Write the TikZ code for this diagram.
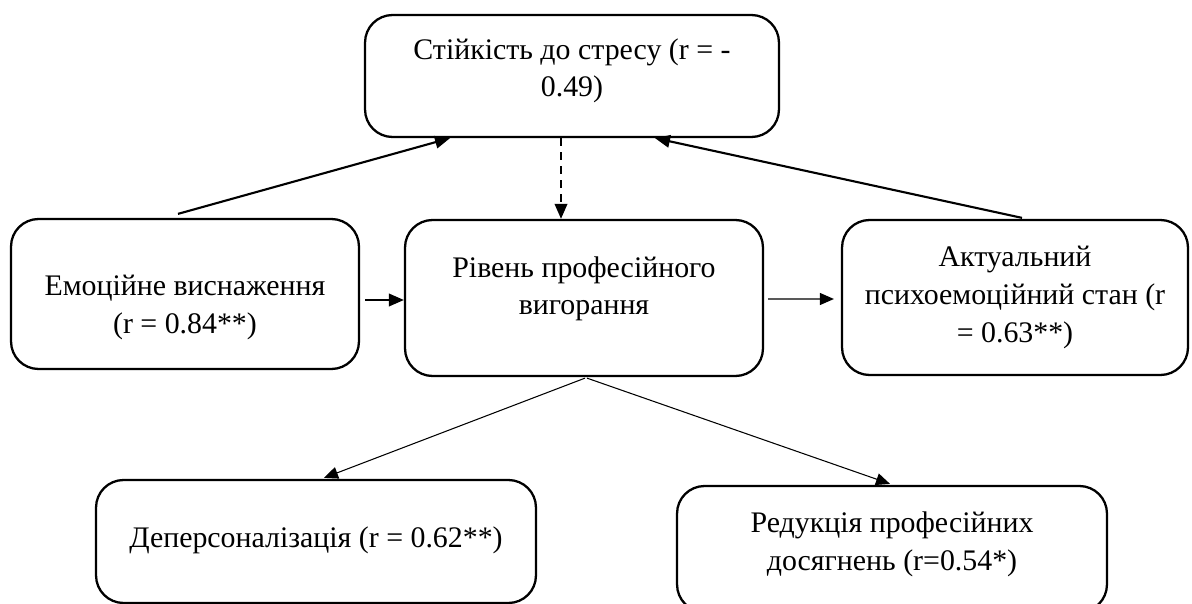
\documentclass[tikz,border=0pt]{standalone}
\usepackage{fontspec}
\setmainfont{Liberation Serif}
\usetikzlibrary{arrows.meta,calc}
\begin{document}
\begin{tikzpicture}[x=0.02cm,y=-0.02cm,
  box/.style={draw, line width=1.3pt, rounded corners=0.55cm, inner sep=0pt},
  lbl/.style={inner sep=0pt, align=center, anchor=base, font=\fontsize{17}{21.6}\selectfont},
  thickarrow/.style={line width=1.2pt, -{Triangle[length=0.3cm,width=0.25cm]}},
  thinarrow/.style={line width=0.6pt, -{Triangle[length=0.28cm,width=0.24cm]}},
]
\useasboundingbox (0,0) rectangle (1192,604);
% boxes
\node[box, minimum width=8.28cm, minimum height=2.44cm] (top) at (572,76) {};
\node[box, minimum width=6.96cm, minimum height=3.0cm] (emo) at (185,294) {};
\node[box, minimum width=7.16cm, minimum height=3.12cm] (ctr) at (584,298) {};
\node[box, minimum width=6.92cm, minimum height=3.1cm] (rt) at (1015,297.5) {};
\node[box, minimum width=8.8cm, minimum height=2.46cm] (bl) at (316,541.5) {};
\node[box, minimum width=8.6cm, minimum height=2.52cm] (br) at (892,549) {};
% texts (anchor base = baseline of the last line)
\node[lbl] (ttop) at (572,97) {Стійкість до стресу (r = -\\0.49)};
\node[lbl] (temo) at (185,333) {Емоційне виснаження\\(r = 0.84**)};
\node[lbl] (tctr) at (584,315) {Рівень професійного\\вигорання};
\node[lbl] (trt) at (1015,342) {Актуальний\\психоемоційний стан (r\\= 0.63**)};
\node[lbl] (tbl) at (316,547) {Деперсоналізація (r = 0.62**)};
\node[lbl] (tbr) at (892,570) {Редукція професійних\\досягнень (r=0.54*)};
% connectors
\draw[thickarrow] ($(emo.north)+(-7,-4)$) -- ($(top.south)+(-122,0)$);
\draw[thickarrow] ($(rt.north)+(7,-1)$) -- ($(top.south)+(83,0)$);
\draw[thickarrow, dash pattern=on 0.16cm off 0.12cm] ($(top.south)+(-11,0)$) -- ($(ctr.north)+(-23,0)$);
\draw[thickarrow] ($(emo.east)+(5,6)$) -- ($(ctr.west)+(0,2)$);
\draw[thinarrow] ($(ctr.east)+(4,1)$) -- ($(rt.west)+(-7,1.5)$);
\draw[thinarrow] ($(ctr.south)+(1,1)$) -- ($(bl.north)+(8,-1)$);
\draw[thinarrow] ($(ctr.south)+(3,1)$) -- ($(br.north)+(-2,-1)$);
\end{tikzpicture}
\end{document}
